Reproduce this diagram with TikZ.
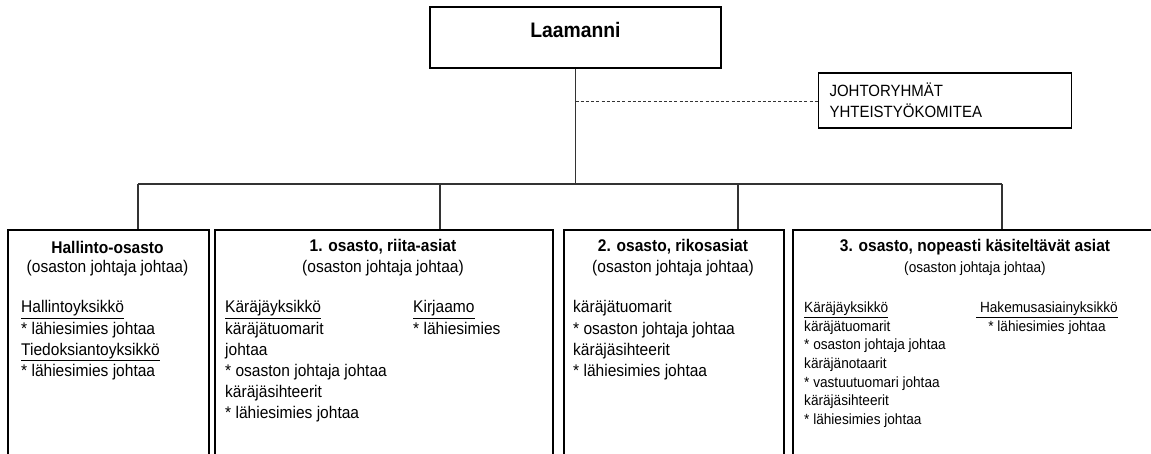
\documentclass[tikz,border=0pt]{standalone}
\usepackage{fontspec}
\setmainfont{Liberation Sans}[FakeStretch=0.92]
\usetikzlibrary{positioning}
\tikzset{
	yksikko/.style={draw=black,line width=1.6pt,anchor=north west,inner sep=0pt},
	johtaja/.style={draw=black,line width=1.3pt,inner sep=0pt},
	yhteys/.style={draw=black!80,line width=1.1pt},
	otsikko/.style={font=\bfseries\fontsize{16.9}{19}\selectfont,inner sep=0pt},
	alaotsikko/.style={font=\fontsize{16.9}{19}\selectfont,inner sep=0pt},
	teksti/.style={font=\fontsize{16.9}{21.2}\selectfont,align=left,anchor=north west,inner sep=0pt},
	pieni/.style={font=\fontsize{14.8}{18.7}\selectfont,inner sep=0pt}
}
\begin{document}
\begin{tikzpicture}[x=1pt,y=-1pt]
	\useasboundingbox (0,0) rectangle (1151,453);
	\clip (0,0) rectangle (1151,453);
	% Johto
	\node[johtaja,minimum width=291pt,minimum height=61pt,text depth=15pt,font=\bfseries\fontsize{21}{23}\selectfont] (laam) at (575.5,37.5) {Laamanni};
	\node[johtaja,line width=1.1pt,anchor=west,minimum height=55pt,text width=231pt,inner xsep=11pt,align=left,font=\fontsize{16.3}{20.5}\selectfont] (ryhmat) at (818,100.5) {JOHTORYHMÄT\\YHTEISTYÖKOMITEA};
	%Osastot
	\node[yksikko,minimum width=201pt,minimum height=245pt] (hallinto) at (7,229) {};
	\node[yksikko,minimum width=338pt,minimum height=245pt] (riita) at (214,229) {};
	\node[yksikko,minimum width=220pt,minimum height=245pt] (rikos) at (563,229) {};
	\node[yksikko,minimum width=366pt,minimum height=245pt] (nopea) at (792,229) {};
	% Connectors
	\coordinate (hub) at (575.5,184);
	\coordinate (ryhmahaara) at (575.5,101);
	\draw[yhteys] (laam) -- (hub);
	\draw[yhteys,line width=0.8pt,dash pattern=on 3pt off 2.2pt] (ryhmahaara) -- (ryhmat.west |- ryhmahaara);
	\draw[yhteys] (138,184) -- (1002,184);
	\draw[yhteys] (138,184) -- (hallinto.north -| 138,0);
	\draw[yhteys] (440,184) -- (riita.north -| 440,0);
	\draw[yhteys] (738,184) -- (rikos.north -| 738,0);
	\draw[yhteys] (1002,184) -- (nopea.north -| 1002,0);
	%Labels
	\node[otsikko] at (107.5,247) {Hallinto-osasto};
	\node[alaotsikko] at (107.5,268.5) {(osaston johtaja johtaa)};
	\node[teksti] at (21,300.5) {\underline{Hallintoyksikkö}\\* lähiesimies johtaa\\\underline{Tiedoksiantoyksikkö}\\* lähiesimies johtaa};
	\node[otsikko] at (383,247) {1. osasto, riita-asiat};
	\node[alaotsikko] at (383,268.5) {(osaston johtaja johtaa)};
	\node[teksti] at (225,300.5) {\underline{Käräjäyksikkö}\\käräjätuomarit\\johtaa\\* osaston johtaja johtaa\\käräjäsihteerit\\* lähiesimies johtaa};
	\node[teksti] at (413,300.5) {\underline{Kirjaamo}\\* lähiesimies};
	\node[otsikko] at (673,247) {2. osasto, rikosasiat};
	\node[alaotsikko] at (673,268.5) {(osaston johtaja johtaa)};
	\node[teksti] at (573,300.5) {käräjätuomarit\\* osaston johtaja johtaa\\käräjäsihteerit\\* lähiesimies johtaa};
	\node[otsikko] at (975,247) {3. osasto, nopeasti käsiteltävät asiat};
	\node[pieni] at (975,268.5) {(osaston johtaja johtaa)};
	\node[pieni,align=left,anchor=north west] at (804,301.5) {\underline{Käräjäyksikkö}\\käräjätuomarit\\* osaston johtaja johtaa\\käräjänotaarit\\* vastuutuomari johtaa\\käräjäsihteerit\\* lähiesimies johtaa};
	\node[pieni,align=center,anchor=north] at (1047,301.5) {\underline{\ Hakemusasiainyksikkö}\\* lähiesimies johtaa};
\end{tikzpicture}
\end{document}
